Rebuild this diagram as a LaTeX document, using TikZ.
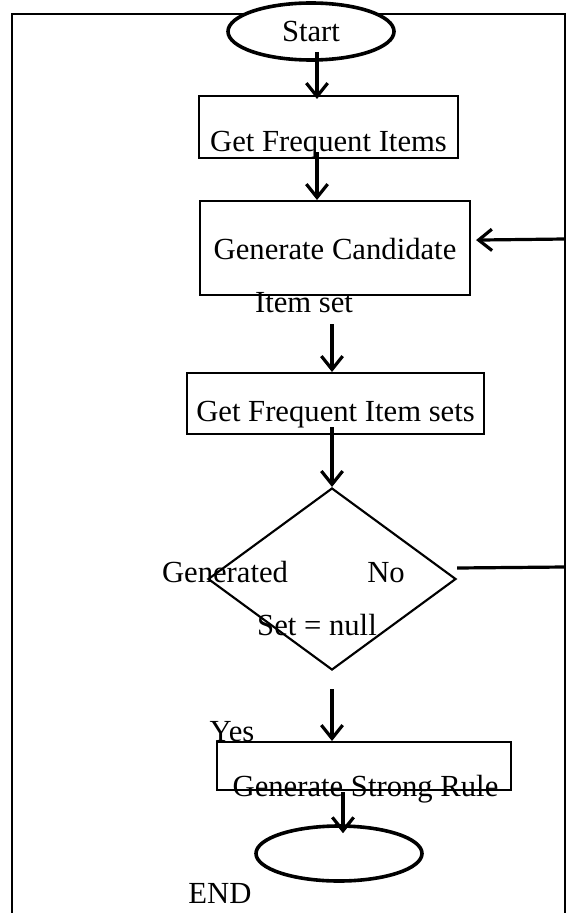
\documentclass[tikz,border=0pt]{standalone}
\usepackage{fontspec}
\setmainfont{Liberation Serif}
\usetikzlibrary{shapes.geometric,arrows.meta,calc}

\begin{document}
\begin{tikzpicture}[x=0.75pt,y=-0.75pt,
  font=\fontsize{23}{26}\selectfont,
  term/.style={ellipse,draw,line width=2.7pt,fill=white,minimum width=124.5pt,inner sep=0pt},
  procbox/.style={rectangle,draw,line width=1.6pt,inner sep=0pt,anchor=north},
  txt/.style={anchor=base,inner sep=0pt},
  arr/.style={line width=2.4pt,-{Straight Barb[length=10pt,width=16pt]}}]
\useasboundingbox (0,0) rectangle (570,913);

% Frame
\draw[line width=2pt] (12,913) -- (12,14) -- (565,14) -- (565,913);
\coordinate (loopt) at (565,239);
\coordinate (loopb) at (565,567);

% Terminals
\node[term,minimum height=42.75pt] (start) at (311,31.5) {Start};
\node[term,minimum height=41.25pt] (stop) at (339,853.5) {};
\node[txt] (endtxt) at (220,903) {END};

% Steps
\node[procbox,minimum width=194.25pt,text height=41.25pt,text depth=5.25pt] (items) at (328.5,95) {Get Frequent Items};
\node[procbox,minimum width=202.5pt,text height=43.5pt,text depth=27pt] (cand) at (335,200) {Generate Candidate};
\node[txt] (iset) at (304,312) {Item set};
\node[procbox,minimum width=222.75pt,text height=36pt,text depth=9.75pt] (freq) at (335.5,372) {Get Frequent Item sets};
\node[procbox,minimum width=220.5pt,minimum height=36pt] (strong) at (364,741) {};
\node[txt] (strongtxt) at (365.5,796) {Generate Strong Rule};

% Decision
\node[diamond,draw,line width=1.6pt,minimum width=186pt,minimum height=136.5pt,inner sep=0pt] (dec) at (332,579) {};
\node[txt] (gen) at (225,582) {Generated};
\node[txt] (no) at (386,582) {No};
\node[txt] (null) at (317,635) {Set = null};
\node[txt] (yes) at (232,741) {Yes};

% Flow
\draw[arr] ($(start.south)+(6,-10)$) -- ($(items.north)+(-11.5,4)$);
\draw[arr] ($(items.south)+(-11.5,-7)$) -- ($(cand.north)+(-18,0)$);
\draw[arr] ($(cand.south)+(-3,28)$) -- ($(freq.north)+(-3.5,0)$);
\draw[arr] ($(freq.south)+(-3.5,-8)$) -- (dec.north);
\draw[arr] ($(dec.south)+(0,18)$) -- ($(strong.north)+(-32,0)$);
\draw[arr] ($(strong.south)+(-21,1)$) -- ($(stop.north)+(4,9)$);

% Loop back
\draw[line width=2.4pt] ($(dec.east)+(0,-11)$) -- (loopb);
\draw[arr] (loopt) -- ($(cand.east)+(5,-8)$);
\end{tikzpicture}
\end{document}
